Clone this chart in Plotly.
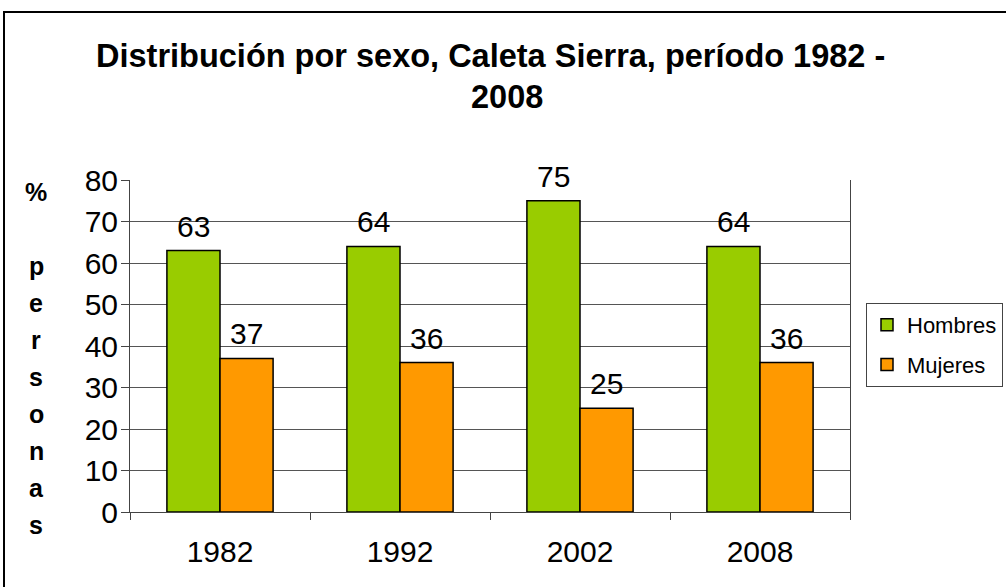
import plotly.graph_objects as go

years = ["1982", "1992", "2002", "2008"]
hombres = [63, 64, 75, 64]
mujeres = [37, 36, 25, 36]
y_ticks = [0, 10, 20, 30, 40, 50, 60, 70, 80]
title_lines = ["Distribución por sexo, Caleta Sierra, período 1982 -", "2008"]
ytitle_chars = ["%", "", "p", "e", "r", "s", "o", "n", "a", "s"]

W, H = 1006, 587
L, R, T, B = 130, 850, 180, 512  # plot area in pixels

def px_x(p):
    return (p - L) / (R - L)

def px_y(p):
    return (B - p) / (B - T)

FONT = "Liberation Sans, Arial, sans-serif"
BARGAP = 0.41
cat_w = (R - L) / len(years)
bar_w = cat_w * (1 - BARGAP) / 2

fig = go.Figure()
fig.add_trace(go.Bar(
    name="Hombres", x=years, y=hombres, legendgroup="h",
    marker=dict(color="#99CC00", line=dict(color="black", width=1.5)),
))
fig.add_trace(go.Bar(
    name="Mujeres", x=years, y=mujeres, legendgroup="m",
    marker=dict(color="#FF9900", line=dict(color="black", width=1.5)),
))

annotations = []
for series, sign in ((hombres, -1), (mujeres, 1)):
    for idx, v in enumerate(series):
        annotations.append(dict(text=str(v), x=idx, y=v, xref="x", yref="y",
                                xshift=sign * bar_w / 2, yshift=6,
                                xanchor="center", yanchor="bottom", showarrow=False,
                                font=dict(size=30, family=FONT, color="black")))

annotations.append(dict(text="<b>" + title_lines[0] + "</b>", xref="paper", yref="paper",
                        x=px_x(490), y=px_y(56), xanchor="center", yanchor="middle",
                        showarrow=False, font=dict(size=32.5, family=FONT, color="black")))
annotations.append(dict(text="<b>" + title_lines[1] + "</b>", xref="paper", yref="paper",
                        x=px_x(507), y=px_y(97), xanchor="center", yanchor="middle",
                        showarrow=False, font=dict(size=32.5, family=FONT, color="black")))
for i, ch in enumerate(ytitle_chars):
    if ch:
        annotations.append(dict(text="<b>" + ch + "</b>", xref="paper", yref="paper",
                                x=px_x(36), y=px_y(192 + 37 * i), xanchor="center", yanchor="middle",
                                showarrow=False, font=dict(size=25, family=FONT, color="black")))

fig.update_layout(
    width=W, height=H,
    margin=dict(l=L, r=W - R, t=T, b=H - B, pad=0, autoexpand=False),
    paper_bgcolor="white", plot_bgcolor="white",
    barmode="group", bargap=BARGAP, bargroupgap=0,
    font=dict(family=FONT, color="black"),
    showlegend=True,
    legend=dict(x=px_x(866), y=px_y(345), xanchor="left", yanchor="middle",
                bordercolor="#444444", borderwidth=1, bgcolor="white",
                font=dict(size=22, family=FONT, color="black"),
                tracegroupgap=8, itemwidth=30),
    annotations=annotations,
    shapes=[dict(type="rect", xref="paper", yref="paper",
                 x0=px_x(4), x1=px_x(1020), y0=px_y(12), y1=px_y(620),
                 line=dict(color="black", width=2), fillcolor="rgba(0,0,0,0)", layer="below")],
)
fig.update_xaxes(type="category", categoryorder="array", categoryarray=years,
                 range=[-0.5, len(years) - 0.5], autorange=False, automargin=False,
                 tickson="boundaries", ticks="outside", ticklen=7, tickangle=0,
                 tickcolor="#444444", showline=True, linecolor="#444444", linewidth=1,
                 mirror=False, showgrid=False, ticklabelstandoff=13,
                 tickfont=dict(size=30, family=FONT, color="black"))
fig.update_yaxes(range=[0, 80], autorange=False, automargin=False, tickvals=y_ticks,
                 ticks="outside", ticklen=8, ticklabelstandoff=-3,
                 tickcolor="#444444", showline=True, linecolor="#444444", linewidth=1,
                 mirror=True, showgrid=True, gridcolor="#555555", gridwidth=1,
                 zeroline=False, tickfont=dict(size=30, family=FONT, color="black"))

fig.write_html("out.html", config={"displayModeBar": False},
               post_script="document.body.style.margin='0';document.body.style.overflow='hidden';")
